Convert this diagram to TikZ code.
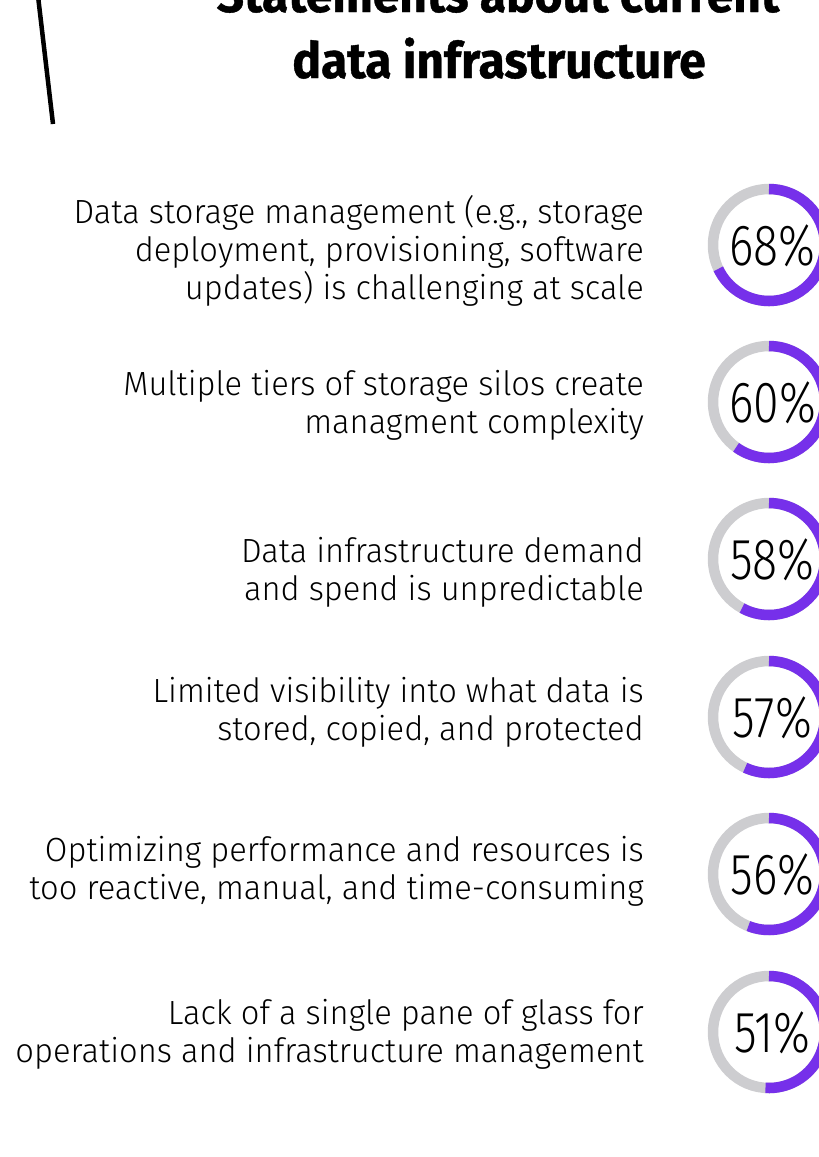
\documentclass[tikz,border=0pt]{standalone}
\usepackage{fontspec}
\setmainfont{Fira Sans Light}[FakeStretch=0.975]
\newfontfamily\titlefont{Fira Sans Bold}[FakeStretch=0.958,FakeBold=0.8]
\newfontfamily\pctfont{Fira Sans Light}[FakeStretch=0.8]
\definecolor{ringpurple}{RGB}{118,48,234}
\definecolor{ringgray}{RGB}{205,205,208}
\tikzset{
  stmt/.style={anchor=base east, align=right, inner sep=0pt,
    font={\fontsize{33.5}{38}\selectfont}},
  pct/.style={anchor=base, inner sep=0pt, font={\pctfont\fontsize{58}{58}\selectfont}},
  ringbg/.style={draw=ringgray, line width=10.5pt},
  ringfg/.style={draw=ringpurple, line width=10.5pt},
  ttl/.style={anchor=base, inner sep=0pt, font={\titlefont\fontsize{50}{50}\selectfont}}
}
\begin{document}
\begin{tikzpicture}[x=1pt,y=1pt]
\useasboundingbox (0,-1157) rectangle (819,0);
\clip (0,-1157) rectangle (819,0);
% title
\node[ttl] (t1) at (498,-12) {Statements about current};
\node[ttl] (t2) at (499,-78) {data infrastructure};
\coordinate (la) at (38,4);
\coordinate (lb) at (53,-124);
\draw[line width=4.5pt] (la) -- (lb);
% rings
\foreach \n/\cy/\p in {a/245/68, b/402/60, c/559/58, d/717/57, e/874/56, f/1032/51}{
  \coordinate (c\n) at (769,-\cy);
  \draw[ringbg] (c\n) circle[radius=56];
  \draw[ringfg] (c\n) ++(90:56) arc[start angle=90, end angle={90-3.6*\p}, radius=56];
  \node[pct] (p\n) at (772.5,-\cy-20) {\p\%};
}
% statements
\node[stmt] (sa) at (644,-299) {Data storage management (e.g., storage\\deployment, provisioning, software\\updates) is challenging at scale};
\node[stmt] (sb) at (644,-433) {Multiple tiers of storage silos create\\managment complexity};
\node[stmt] (sc) at (644,-600) {Data infrastructure demand\\and spend is unpredictable};
\node[stmt] (sd) at (644,-740) {Limited visibility into what data is\\stored, copied, and protected};
\node[stmt] (se) at (644,-899) {Optimizing performance and resources is\\too reactive, manual, and time-consuming};
\node[stmt] (sf) at (644,-1062) {Lack of a single pane of glass for\\operations and infrastructure management};
\end{tikzpicture}
\end{document}
